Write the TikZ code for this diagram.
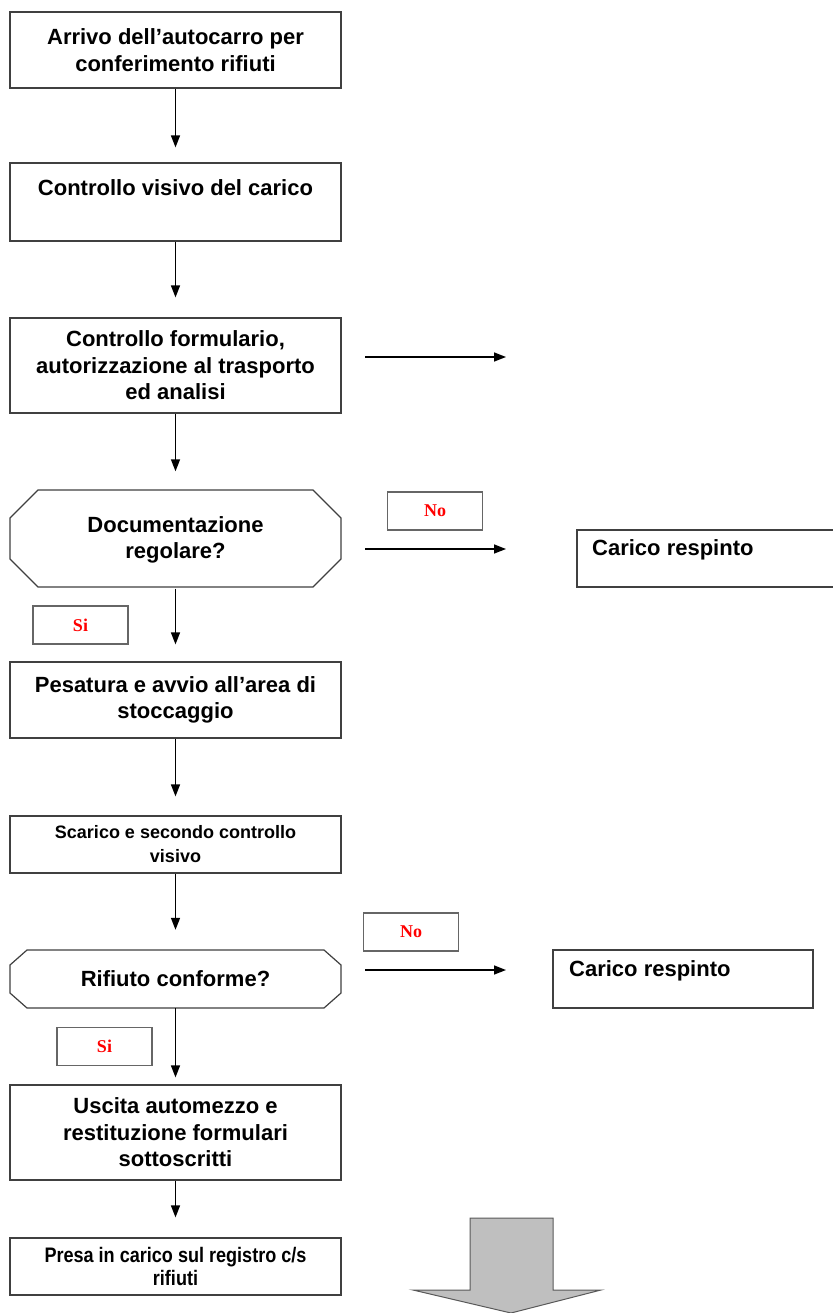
\documentclass[tikz,border=0pt]{standalone}
\usepackage{fontspec}
\setmainfont{Liberation Sans}
\newfontfamily\serifred{Liberation Serif}
\newfontfamily\narrowf[FakeStretch=0.86]{Liberation Sans}
\usetikzlibrary{arrows.meta,calc}
\begin{document}
\begin{tikzpicture}[x=1pt,y=-1pt,
  mainfont/.style={font=\bfseries\fontsize{22}{26.5}\selectfont},
  box/.style={draw=black!75, line width=1.2pt, fill=white, minimum width=331pt, inner sep=0pt, align=center, mainfont},
  ghost/.style={minimum width=331pt, inner sep=0pt, align=center, mainfont},
  oct/.style={draw=black!75, line width=1.2pt, fill=white},
  txt/.style={inner sep=0pt, align=center, mainfont},
  lbl/.style={draw=black!60, line width=1.1pt, fill=white, minimum width=95pt, minimum height=38pt, inner sep=0pt, text=red, font=\serifred\bfseries\fontsize{18}{20}\selectfont},
  arr/.style={-{Triangle[length=12pt,width=9pt]}, line width=1.5pt},
  bigarrow/.style={draw=black!65, line width=1pt, fill=black!25}
]
\useasboundingbox (0,0) rectangle (832,1313);

% boxes
\node[box, minimum height=76pt] (b1) at (175.5,50) {Arrivo dell’autocarro per\\conferimento rifiuti};
\node[box, minimum height=78pt] (b2) at (175.5,202) {};
\node[txt] (t2) at (175.5,188) {Controllo visivo del carico};
\node[box, minimum height=95pt] (b3) at (175.5,365.5) {Controllo formulario,\\autorizzazione al trasporto\\ed analisi};

% decision 1
\draw[oct] (38,490) -- (313,490) -- (341,518) -- (341,559) -- (313,587) -- (38,587) -- (10,559) -- (10,518) -- cycle;
\node[ghost, minimum height=97pt] (d1) at (175.5,540) {Documentazione\\regolare?};
\node[lbl] (no1) at (435,511) {No};
\node[draw=black!75, line width=1.2pt, minimum width=258pt, minimum height=57pt, inner sep=0pt] (cr1) at (706,558.5) {};
\node[txt, anchor=west] (tcr1) at (592,550) {Carico respinto};
\node[lbl] (si1) at (80.5,625) {Si};

\node[box, minimum height=76pt] (b5) at (175.5,700) {Pesatura e avvio all’area di\\stoccaggio};
\node[box, minimum height=57pt, font=\bfseries\fontsize{18}{24}\selectfont] (b6) at (175.5,844.5) {Scarico e secondo controllo\\visivo};

% decision 2
\draw[oct] (27,950) -- (324,950) -- (341,965) -- (341,993) -- (324,1008) -- (27,1008) -- (10,993) -- (10,965) -- cycle;
\node[ghost, minimum height=58pt] (d2) at (175.5,979) {Rifiuto conforme?};
\node[lbl] (no2) at (411,932) {No};
\node[draw=black!75, line width=1.2pt, minimum width=260pt, minimum height=58pt, inner sep=0pt] (cr2) at (683,979) {};
\node[txt, anchor=west] (tcr2) at (569,971) {Carico respinto};
\node[lbl] (si2) at (104.5,1046.5) {Si};

\node[box, minimum height=95pt] (b8) at (175.5,1132.5) {Uscita automezzo e\\restituzione formulari\\sottoscritti};
\node[box, minimum height=57pt, font=\narrowf\bfseries\fontsize{21}{23}\selectfont] (b9) at (175.5,1266.5) {Presa in carico sul registro c/s\\rifiuti};

% vertical connectors
\draw[arr] (b1.south) -- ([yshift=15pt]b2.north);
\draw[arr] (b2.south) -- ([yshift=20pt]b3.north);
\draw[arr] (b3.south) -- ([yshift=20pt]d1.north);
\draw[arr] (d1.south) -- ([yshift=17pt]b5.north);
\draw[arr] (b5.south) -- ([yshift=19pt]b6.north);
\draw[arr] (b6.south) -- ([yshift=20pt]d2.north);
\draw[arr] (d2.south) -- ([yshift=7pt]b8.north);
\draw[arr] (b8.south) -- ([yshift=20pt]b9.north);

% free horizontal arrows
\coordinate (h1s) at (365,357); \coordinate (h1e) at (506,357);
\coordinate (h2s) at (365,549); \coordinate (h2e) at (506,549);
\coordinate (h3s) at (365,970); \coordinate (h3e) at (506,970);
\draw[arr] (h1s) -- (h1e);
\draw[arr] (h2s) -- (h2e);
\draw[arr] (h3s) -- (h3e);

% big gray arrow
\draw[bigarrow] (470,1218) -- (553,1218) -- (553,1290) -- (601,1290) -- (511,1313) -- (413,1290) -- (470,1290) -- cycle;
\end{tikzpicture}
\end{document}
